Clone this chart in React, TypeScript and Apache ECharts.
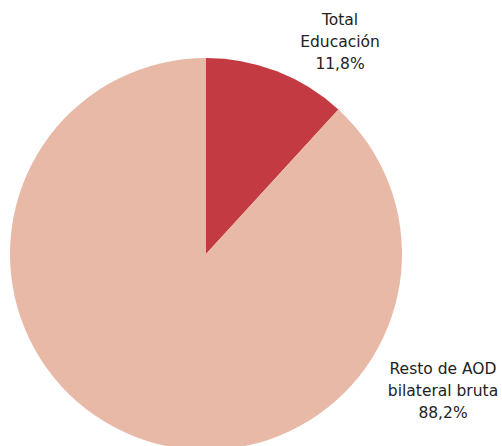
import React, { useEffect, useRef } from "react";
import * as echarts from "echarts";

const categories = ["Total\nEducación", "Resto de AOD\nbilateral bruta"];
const values = [11.8, 88.2];
const colors = ["#C33A42", "#E9B9A8"];
const labelPos = [
  [340, 42],
  [443, 391],
];

export default function App() {
  const ref = useRef<HTMLDivElement>(null);
  useEffect(() => {
    document.body.style.margin = "0";
    const chart = echarts.init(ref.current!, null, { renderer: "svg" });
    chart.setOption({
      animation: false,
      series: [
        {
          type: "pie",
          center: [206, 254],
          radius: 196,
          startAngle: 90,
          clockwise: true,
          data: categories.map((c, i) => ({
            name: c,
            value: values[i],
            itemStyle: { color: colors[i] },
          })),
          label: {
            show: true,
            position: "outside",
            formatter: (p: any) =>
              p.name + "\n" + p.value.toFixed(1).replace(".", ",") + "%",
            color: "#222",
            fontFamily: "DejaVu Sans",
            fontSize: 15.5,
            lineHeight: 22,
            align: "center",
            overflow: "none",
            width: 200,
          },
          labelLine: { show: false },
          labelLayout: (params: any) => ({
            x: labelPos[params.dataIndex][0],
            y: labelPos[params.dataIndex][1],
            align: "center",
            verticalAlign: "middle",
          }),
          emphasis: { disabled: true },
        },
      ],
    });
    return () => chart.dispose();
  }, []);
  return <div ref={ref} style={{ width: 502, height: 446 }} />;
}
